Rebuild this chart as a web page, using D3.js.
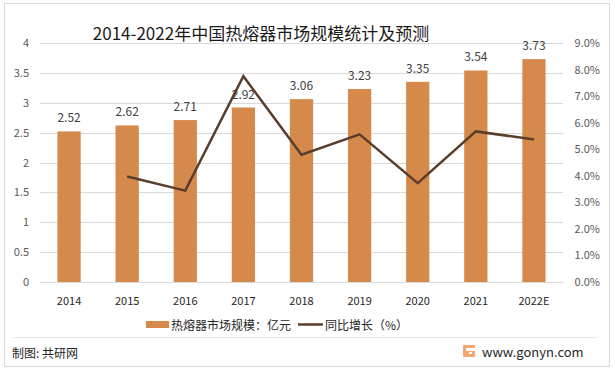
<!DOCTYPE html>
<meta charset="utf-8">
<script src="https://d3js.org/d3.v7.min.js"></script>
<style>
  body { margin: 0; background: #fff; }
  text { font-family: "Noto Sans CJK SC", "Microsoft YaHei", sans-serif; }
</style>
<body>
<svg id="chart" width="615" height="371"></svg>
<script>
  // data
  var years = ["2014", "2015", "2016", "2017", "2018", "2019", "2020", "2021", "2022E"];
  var market = [2.52, 2.62, 2.71, 2.92, 3.06, 3.23, 3.35, 3.54, 3.73];
  var growth = [null, 3.97, 3.44, 7.75, 4.79, 5.56, 3.72, 5.67, 5.37];
  var leftTicks = [0, 0.5, 1, 1.5, 2, 2.5, 3, 3.5, 4];
  var rightTicks = [0, 1, 2, 3, 4, 5, 6, 7, 8, 9];

  var svg = d3.select("#chart");
  var pL = 40, pR = 563, pT = 43, pB = 282;

  // frame
  svg.append("rect").attr("x", 4.5).attr("y", 3.5).attr("width", 605).attr("height", 363)
    .attr("fill", "#fff").attr("stroke", "#d9d9d9");
  svg.append("line").attr("x1", 13).attr("x2", 597).attr("y1", 337.5).attr("y2", 337.5)
    .attr("stroke", "#e6e6e6");

  var x = d3.scaleBand().domain(years).range([pL, pR]).paddingInner(0.6).paddingOuter(0.3);
  var yL = d3.scaleLinear().domain([0, 4]).range([pB, pT]);
  var yR = d3.scaleLinear().domain([0, 9]).range([pB, pT]);

  // gridlines
  svg.append("g").selectAll("line").data(leftTicks).enter().append("line")
    .attr("x1", pL).attr("x2", pR)
    .attr("y1", function (d) { return Math.round(yL(d)) + 0.5; })
    .attr("y2", function (d) { return Math.round(yL(d)) + 0.5; })
    .attr("stroke", "#d9d9d9");

  // left axis labels
  svg.append("g").selectAll("text").data(leftTicks).enter().append("text")
    .attr("x", 29).attr("y", function (d) { return yL(d) + 4; })
    .attr("text-anchor", "end").attr("font-size", 11).attr("fill", "#595959")
    .text(function (d) { return d; });

  // right axis labels
  svg.append("g").selectAll("text").data(rightTicks).enter().append("text")
    .attr("x", 600).attr("y", function (d) { return yR(d) + 4; })
    .attr("text-anchor", "end").attr("font-size", 11).attr("fill", "#595959")
    .text(function (d) { return d.toFixed(1) + "%"; });

  // bars
  svg.append("g").selectAll("rect").data(market).enter().append("rect")
    .attr("x", function (d, i) { return x(years[i]); })
    .attr("width", x.bandwidth())
    .attr("y", function (d) { return yL(d); })
    .attr("height", function (d) { return pB - yL(d); })
    .attr("fill", "#d5894a");

  // bar labels
  svg.append("g").selectAll("text").data(market).enter().append("text")
    .attr("x", function (d, i) { return x(years[i]) + x.bandwidth() / 2; })
    .attr("y", function (d) { return yL(d) - 9; })
    .attr("text-anchor", "middle").attr("font-size", 12).attr("fill", "#404040")
    .text(function (d) { return d.toFixed(2); });

  // growth line
  var line = d3.line()
    .defined(function (d) { return d != null; })
    .x(function (d, i) { return x(years[i]) + x.bandwidth() / 2; })
    .y(function (d) { return yR(d); });
  svg.append("path").datum(growth).attr("d", line)
    .attr("fill", "none").attr("stroke", "#5a3e2b").attr("stroke-width", 2.5)
    .attr("stroke-linejoin", "miter");

  // x labels
  svg.append("g").selectAll("text").data(years).enter().append("text")
    .attr("x", function (d) { return x(d) + x.bandwidth() / 2; })
    .attr("y", 305).attr("text-anchor", "middle").attr("font-size", 11).attr("fill", "#262626")
    .text(function (d) { return d; });

  // title
  svg.append("text").attr("x", 261).attr("y", 40).attr("text-anchor", "middle")
    .attr("font-size", 17).attr("fill", "#1a1a1a")
    .text("2014-2022年中国热熔器市场规模统计及预测");

  // legend
  svg.append("rect").attr("x", 146).attr("y", 321).attr("width", 23).attr("height", 7).attr("fill", "#d5894a");
  svg.append("text").attr("x", 171).attr("y", 330).attr("font-size", 12).attr("fill", "#262626")
    .text("热熔器市场规模：亿元");
  svg.append("line").attr("x1", 298).attr("x2", 323).attr("y1", 324.5).attr("y2", 324.5)
    .attr("stroke", "#5a3e2b").attr("stroke-width", 2.5);
  svg.append("text").attr("x", 325).attr("y", 330).attr("font-size", 12).attr("fill", "#262626")
    .text("同比增长（%）");

  // footer
  svg.append("text").attr("x", 12).attr("y", 358).attr("font-size", 12).attr("fill", "#262626")
    .text("制图: 共研网");
  var logo = svg.append("g").attr("transform", "translate(463,345)");
  logo.append("rect").attr("width", 12).attr("height", 12).attr("rx", 1).attr("fill", "#f3a66d");
  logo.append("rect").attr("x", 3).attr("y", 3).attr("width", 9).attr("height", 3).attr("fill", "#fff");
  logo.append("rect").attr("x", 6).attr("y", 7).attr("width", 3).attr("height", 2).attr("fill", "#fff");
  svg.append("text").attr("x", 482).attr("y", 357).attr("font-size", 13)
    .attr("font-family", "'DejaVu Sans', sans-serif").attr("fill", "#262626")
    .text("www.gonyn.com");
</script>
</body>
